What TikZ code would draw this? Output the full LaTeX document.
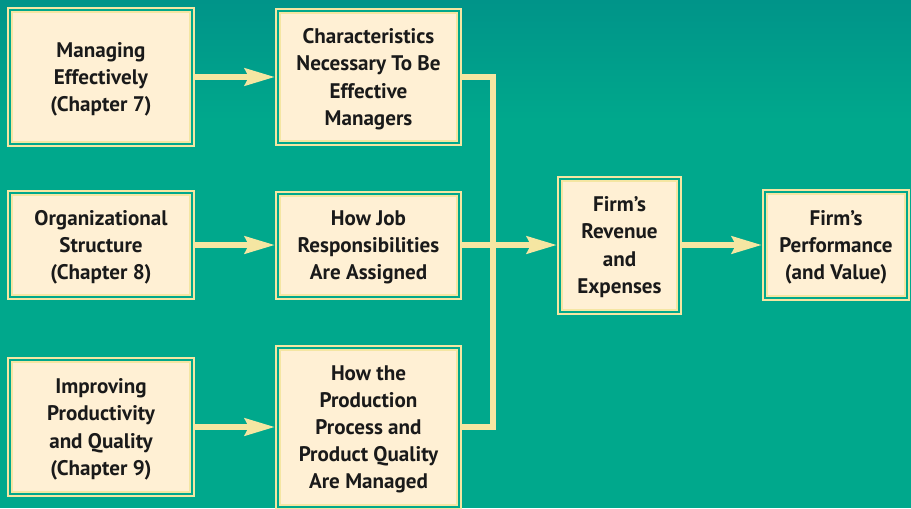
\documentclass[tikz,border=0pt]{standalone}
\usepackage{fontspec}
\setmainfont{PT Sans}
\usetikzlibrary{arrows.meta, positioning}
\definecolor{firmteal}{HTML}{00A88C}
\definecolor{firmtealdark}{HTML}{009489}
\definecolor{firmcream}{HTML}{FFF0D4}
\definecolor{firmyellow}{HTML}{F5E6A2}
\definecolor{firmtext}{HTML}{1A1A1A}
\tikzset{
  node distance=8.6mm and 16mm,
  >={Stealth[length=6mm, width=3.4mm, inset=0.8mm]},
  box/.style={rectangle, draw=firmyellow, line width=0.4mm, double=firmteal,
              double distance=0.4mm, fill=firmcream, outer sep=0.6mm,
              align=center, text=firmtext, inner sep=2pt, text depth=0pt,
              minimum width=36.4mm, minimum height=26.8mm,
              font=\fontsize{12}{15.4}\selectfont\bfseries},
  boxs/.style={box, minimum height=20.8mm},
  flow/.style={->, line width=1.2mm, draw=firmyellow},
  link/.style={line width=1.2mm, draw=firmyellow, line join=miter},
}
\begin{document}
\begin{tikzpicture}
  \useasboundingbox (0,0) rectangle (182.2mm,-101.6mm);
  \fill[firmteal] (0,0) rectangle (182.2mm,-101.6mm);
  \shade[top color=firmtealdark, bottom color=firmteal] (0,0) rectangle (182.2mm,-24mm);

  \node[box] (mngeff) at (20.2mm,-15.4mm) {Managing\\ Effectively\\ (Chapter 7)};
  \node[boxs, below=8.6mm of mngeff] (orgstruct) {Organizational\\ Structure\\ (Chapter 8)};
  \node[box, below=11.4mm of orgstruct] (improve) {Improving\\ Productivity\\ and Quality\\ (Chapter 9)};

  \node[box, minimum width=36.2mm, minimum height=26.4mm, right=of mngeff] (charac) {Characteristics\\ Necessary To Be\\ Effective\\ Managers};
  \node[boxs, minimum width=36.2mm, minimum height=20.6mm, right=of orgstruct] (jobresp) {How Job\\ Responsibilities\\ Are Assigned};
  \node[box, minimum width=36.2mm, minimum height=31.8mm, right=of improve] (prodproc) {How the\\ Production\\ Process and\\ Product Quality\\ Are Managed};

  \node[box, minimum width=23.8mm, minimum height=26.6mm, right=19mm of jobresp] (revenue) {Firm’s\\ Revenue\\ and\\ Expenses};
  \node[boxs, minimum width=28.4mm, minimum height=21.2mm, right=of revenue] (perform) {Firm’s\\ Performance\\ (and Value)};

  \coordinate[right=6.2mm of charac.east] (jtop);

  \draw[flow] (mngeff) -- (charac);
  \draw[flow] (orgstruct) -- (jobresp);
  \draw[flow] (improve) -- (prodproc);
  \draw[link] (charac.east) -- (jtop) -- (jtop |- prodproc.east) -- (prodproc.east);
  \draw[flow] (jobresp) -- (revenue);
  \draw[flow] (revenue) -- (perform);
\end{tikzpicture}
\end{document}
